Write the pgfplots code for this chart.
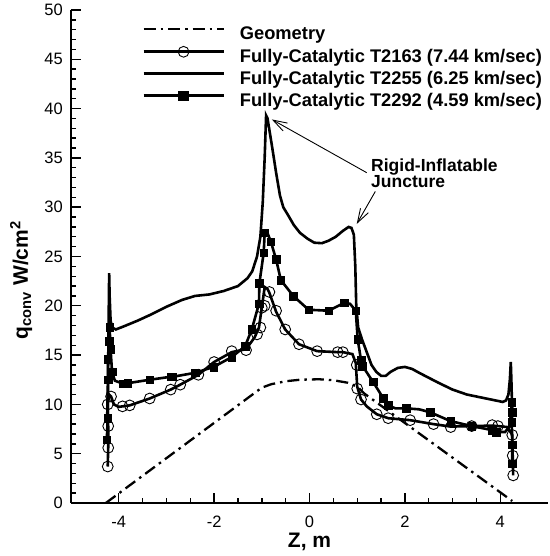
\documentclass[border=0pt]{standalone}
\usepackage{pgfplots}
\pgfplotsset{compat=1.18}
\usepackage{fontspec}
\setmainfont{Liberation Sans}
\usetikzlibrary{arrows.meta}
\begin{document}
\begin{tikzpicture}
\begin{axis}[
  scale only axis, width=477pt, height=493pt,
  xmin=-5, xmax=5, ymin=0, ymax=50,
  axis lines*=left,
  axis line style={line width=2pt, -},
  tick align=inside,
  xtick pos=bottom, ytick pos=left,
  major tick length=10pt, minor tick length=5pt,
  every tick/.style={black, line width=1.4pt},
  xtick={-4,-2,0,2,4}, xticklabels={-4,-2,0,2,4},
  ytick={0,5,10,15,20,25,30,35,40,45,50},
  yticklabels={0,5,10,15,20,25,30,35,40,45,50},
  minor x tick num=3, minor y tick num=4,
  ticklabel style={font=\fontsize{16.5}{16.5}\selectfont, inner sep=1pt},
  xticklabel style={yshift=-12pt},
  yticklabel style={xshift=-7pt},
  xlabel={\bfseries Z, m},
  xlabel style={at={(rel axis cs:0.5,0)}, anchor=base, yshift=-44pt, font=\fontsize{21}{21}\selectfont},
  ylabel={\bfseries q\textsubscript{conv} W/cm\textsuperscript{2}},
  ylabel style={at={([xshift=-43pt]rel axis cs:0,0.452)}, anchor=base, rotate=0, font=\fontsize{21}{21}\selectfont},
  legend image code/.code={\draw[#1, mark repeat=2, mark phase=2] plot coordinates {(0pt,6.5pt) (40pt,6.5pt) (80pt,6.5pt)};},
  legend style={draw=none, fill=none, inner sep=0pt, column sep=15pt, row sep=0pt,
    at={(axis cs:-3.51,48.56)}, anchor=north west,
    font=\bfseries\fontsize{18.3}{21}\selectfont,
    nodes={inner sep=0pt, text height=15pt, text depth=7pt}},
  legend cell align=left,
  clip=false,
]
% Geometry
\addplot[forget plot, black, line width=2.3pt, dash pattern=on 12pt off 5pt on 2.5pt off 5pt] coordinates {
(-4.27,0) (-1.0,11.7) (-0.8,12.05) (-0.5,12.35) (-0.2,12.5) (0.2,12.55) (0.5,12.45) (0.8,12.2) (1.0,11.8) (1.15,11.1) (4.25,0.2)};
% T2163 line
\addplot[forget plot, black, line width=2.6pt] coordinates {
(-4.23,3.7) (-4.22,5.6) (-4.22,7.8) (-4.23,10.0) (-4.2,11.0) (-4.16,10.8) (-4.1,10.0) (-4.0,9.75) (-3.92,9.8) (-3.77,9.9) (-3.35,10.6) (-2.91,11.5) (-2.71,12.0) (-2.33,13.0) (-2.00,14.3) (-1.63,15.3) (-1.33,15.6) (-1.15,16.8) (-1.06,17.8) (-1.0,19.8) (-0.94,21.9) (-0.88,21.7) (-0.84,21.3) (-0.70,19.4) (-0.51,17.6) (-0.22,16.1) (0.16,15.4) (0.59,15.3) (0.70,15.3) (0.9,15.1) (0.97,14.2) (1.00,11.8) (1.08,10.5) (1.2,9.8) (1.41,9.0) (1.65,8.6) (2.11,8.4) (2.60,8.0) (2.96,7.75) (3.40,7.8) (3.83,7.85) (3.95,7.8) (4.15,7.7) (4.25,6.9) (4.26,4.8) (4.27,2.8)};
\addplot[forget plot, only marks, black, mark=o, mark size=5.4pt, mark options={line width=0.9pt}] coordinates {
(-4.23,3.7) (-4.22,5.6) (-4.22,7.8) (-4.23,10.0) (-4.16,10.8) (-3.92,9.8) (-3.77,9.9) (-3.35,10.6) (-2.91,11.5) (-2.71,12.0) (-2.33,13.0) (-2.00,14.3) (-1.63,15.4) (-1.33,15.5) (-1.10,17.1) (-1.03,17.8) (-1.0,19.8) (-0.94,20.0) (-0.84,21.4) (-0.70,19.5) (-0.51,17.6) (-0.22,16.1) (0.16,15.4) (0.59,15.3) (0.70,15.3) (0.99,14.0) (1.00,11.6) (1.08,10.5) (1.41,9.0) (1.65,8.6) (2.11,8.4) (2.60,8.0) (2.96,7.7) (3.40,7.8) (3.83,7.9) (3.95,7.8) (4.25,6.9) (4.26,4.8) (4.27,2.8)};
% T2255
\addplot[forget plot, black, line width=2.6pt] coordinates {
(-4.24,9) (-4.22,14) (-4.21,19) (-4.20,23.3) (-4.19,21) (-4.17,18.5) (-4.14,17.8) (-4.06,17.6) (-3.9,17.9) (-3.6,18.5) (-3.33,19.1) (-3.0,19.9) (-2.67,20.6) (-2.4,21.0) (-2.1,21.15) (-1.8,21.5) (-1.5,22.0) (-1.3,22.8) (-1.2,23.5) (-1.1,25.0) (-1.03,27.0) (-0.98,30.5) (-0.94,35) (-0.91,39.3) (-0.88,39.0) (-0.84,37.8) (-0.78,36) (-0.70,33.5) (-0.62,31.2) (-0.55,30.0) (-0.45,29.2) (-0.33,28.2) (-0.2,27.4) (-0.04,26.8) (0.1,26.4) (0.26,26.35) (0.4,26.6) (0.55,27.0) (0.7,27.6) (0.82,28.0) (0.88,27.9) (0.93,27.2) (0.96,24) (0.98,20.0) (1.02,17.8) (1.1,16.6) (1.2,15.3) (1.3,14.0) (1.4,13.3) (1.5,12.9) (1.6,12.9) (1.7,13.3) (1.85,13.7) (2.0,13.8) (2.15,13.6) (2.3,13.2) (2.5,12.7) (2.7,12.2) (3.0,11.5) (3.3,11.0) (3.6,10.7) (3.9,10.4) (4.05,10.25) (4.12,10.4) (4.17,11) (4.2,12.5) (4.22,14.3) (4.235,12) (4.25,9)};
% T2292 line
\addplot[forget plot, black, line width=2.6pt] coordinates {
(-4.25,6.4) (-4.23,8.6) (-4.22,12.5) (-4.23,14.6) (-4.2,16.4) (-4.19,17.8) (-4.17,15.6) (-4.14,13.3) (-4.08,12.4) (-3.9,12.1) (-3.81,12.15) (-3.35,12.5) (-2.91,12.8) (-2.87,12.8) (-2.40,13.2) (-2.01,13.8) (-1.63,14.8) (-1.35,15.9) (-1.21,17.6) (-1.06,20.2) (-1.05,22.3) (-0.96,25.4) (-0.94,27.4) (-0.89,27.5) (-0.81,26.5) (-0.70,24.7) (-0.60,22.6) (-0.34,21.0) (-0.02,19.6) (0.40,19.5) (0.73,20.3) (0.85,20.2) (0.97,19.5) (1.01,16.6) (1.08,14.5) (1.11,13.9) (1.33,12.3) (1.55,10.6) (1.65,9.9) (1.8,9.6) (2.03,9.6) (2.3,9.5) (2.53,9.2) (2.96,8.3) (3.40,7.8) (3.82,7.4) (3.92,7.2) (4.1,7.2) (4.2,7.8) (4.24,10.2) (4.25,9.2) (4.24,8.2) (4.25,5.9) (4.25,4.0)};
\addplot[forget plot, only marks, black, mark=square*, mark size=3.8pt] coordinates {
(-4.25,6.4) (-4.23,8.6) (-4.22,12.5) (-4.23,14.6) (-4.2,16.4) (-4.19,17.8) (-4.17,15.6) (-4.14,13.3) (-3.9,12.1) (-3.81,12.15) (-3.35,12.5) (-2.91,12.8) (-2.87,12.8) (-2.40,13.2) (-2.01,13.8) (-1.63,14.8) (-1.35,15.9) (-1.21,17.6) (-1.06,20.2) (-1.05,22.3) (-0.96,25.4) (-0.94,27.4) (-0.81,26.5) (-0.70,24.7) (-0.60,22.6) (-0.34,21.0) (-0.02,19.6) (0.40,19.5) (0.73,20.3) (0.97,19.5) (1.01,16.6) (1.08,14.5) (1.11,13.9) (1.33,12.3) (1.55,10.6) (1.65,9.9) (2.03,9.6) (2.53,9.2) (2.96,8.3) (3.40,7.8) (3.82,7.4) (3.92,7.2) (4.24,10.2) (4.25,9.2) (4.24,8.2) (4.25,5.9) (4.25,4.0)};
% legend
\addlegendimage{black, line width=2.3pt, dash pattern=on 12pt off 5pt on 2.5pt off 5pt}
\addlegendimage{black, line width=2.6pt, mark=o, mark size=5.4pt, mark options={line width=0.9pt}}
\addlegendimage{black, line width=2.6pt}
\addlegendimage{black, line width=2.6pt, mark=square*, mark size=3.8pt}
\legend{Geometry, Fully-Catalytic T2163 (7.44 km/sec), Fully-Catalytic T2255 (6.25 km/sec), Fully-Catalytic T2292 (4.59 km/sec)}
% annotation
\node[anchor=north west, inner sep=0pt, align=left, font=\bfseries\fontsize{17.5}{16}\selectfont] at (axis cs:1.29,34.97) {Rigid-Inflatable\\Juncture};
\draw[line width=0.9pt, -{Straight Barb[length=14pt, width=9pt, line width=0.9pt]}] (axis cs:1.20,33.5) -- (axis cs:-0.79,38.9);
\draw[line width=0.9pt, -{Straight Barb[length=14pt, width=9pt, line width=0.9pt]}] (axis cs:1.38,31.6) -- (axis cs:0.99,28.3);
\end{axis}
\path ([shift={(-71pt,-53pt)}]current axis.south west) rectangle ([shift={(0pt,10pt)}]current axis.north east);
\end{tikzpicture}
\end{document}
